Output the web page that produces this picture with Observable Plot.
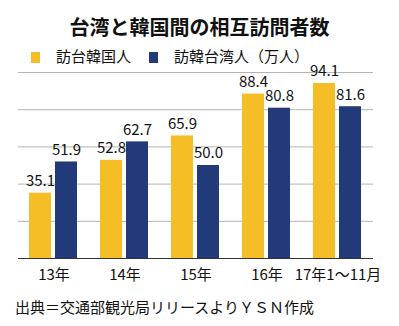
<!DOCTYPE html>
<html>
<head>
<meta charset="utf-8">
<script src="https://cdn.jsdelivr.net/npm/d3@7"></script>
<script src="https://cdn.jsdelivr.net/npm/@observablehq/plot@0.6"></script>
<style>
  html, body { margin: 0; padding: 0; background: #fff; }
  body { font-family: "Noto Sans CJK JP", "Noto Sans", sans-serif; color: #111; }
  #wrap { position: relative; width: 399px; height: 326px; overflow: hidden; }
  #title { position: absolute; top: 13px; left: 0; width: 399px; text-align: center;
           font-size: 20px; font-weight: bold; line-height: 28px; color: #111; }
  #legend { position: absolute; top: 46px; left: 31px; height: 20px; line-height: 20px;
            font-size: 15px; white-space: nowrap; }
  #legend span.sw { display: inline-block; width: 9px; height: 11px; vertical-align: -1px; }
  #legend span.lab { display: inline-block; }
  #chart { position: absolute; top: 66px; left: 0; }
  #chart svg { overflow: visible; }
  #caption { position: absolute; top: 297px; left: 15px; font-size: 15px; line-height: 20px; white-space: nowrap; }
</style>
</head>
<body>
<div id="wrap">
  <div id="title"></div>
  <div id="legend"></div>
  <div id="chart"></div>
  <div id="caption"></div>
</div>
<script>
const titleText = "台湾と韓国間の相互訪問者数";
const captionText = "出典＝交通部観光局リリースよりＹＳＮ作成";
const years = ["13年", "14年", "15年", "16年", "17年1～11月"];
const series = ["訪台韓国人", "訪韓台湾人"];
const legendLabels = ["訪台韓国人", "訪韓台湾人（万人）"];
const koreansToTaiwan = [35.1, 52.8, 65.9, 88.4, 94.1];
const taiwaneseToKorea = [51.9, 62.7, 50.0, 80.8, 81.6];
const gridValues = [20, 40, 60, 80, 100];
const colors = ["#F5BE26", "#223A7A"];

const data = [];
years.forEach((y, i) => {
  data.push({year: y, series: series[0], value: koreansToTaiwan[i]});
  data.push({year: y, series: series[1], value: taiwaneseToKorea[i]});
});

document.getElementById("title").textContent = titleText;
document.getElementById("caption").textContent = captionText;

const legend = document.getElementById("legend");
legendLabels.forEach((lab, i) => {
  const sw = document.createElement("span");
  sw.className = "sw";
  sw.style.background = colors[i];
  sw.style.marginLeft = i === 0 ? "0px" : "18px";
  const t = document.createElement("span");
  t.className = "lab";
  t.textContent = lab;
  t.style.marginLeft = "16px";
  legend.appendChild(sw);
  legend.appendChild(t);
});

const chart = Plot.plot({
  width: 399,
  height: 224,
  marginLeft: 16,
  marginRight: 24,
  marginTop: 6,
  marginBottom: 32,
  style: {fontFamily: "'Noto Sans CJK JP', 'Noto Sans', sans-serif", fontSize: "15px", color: "#111", background: "transparent"},
  fx: {domain: years, padding: 0, label: null, axis: "bottom", tickSize: 0, tickPadding: 11},
  x: {domain: series, paddingInner: 0.148, paddingOuter: 0.407, axis: null},
  y: {domain: [0, 100], axis: null},
  color: {domain: series, range: colors},
  marks: [
    Plot.ruleY(gridValues, {stroke: "#b4b4b4", strokeWidth: 1}),
    Plot.barY(data, {fx: "year", x: "series", y: "value", fill: "series"}),
    Plot.text(data, {fx: "year", x: "series", y: "value", text: d => d.value.toFixed(1), dy: -12, fontSize: 15, fill: "#111"}),
    Plot.ruleY([0], {stroke: "#333", strokeWidth: 1})
  ]
});
document.getElementById("chart").appendChild(chart);
</script>
</body>
</html>
